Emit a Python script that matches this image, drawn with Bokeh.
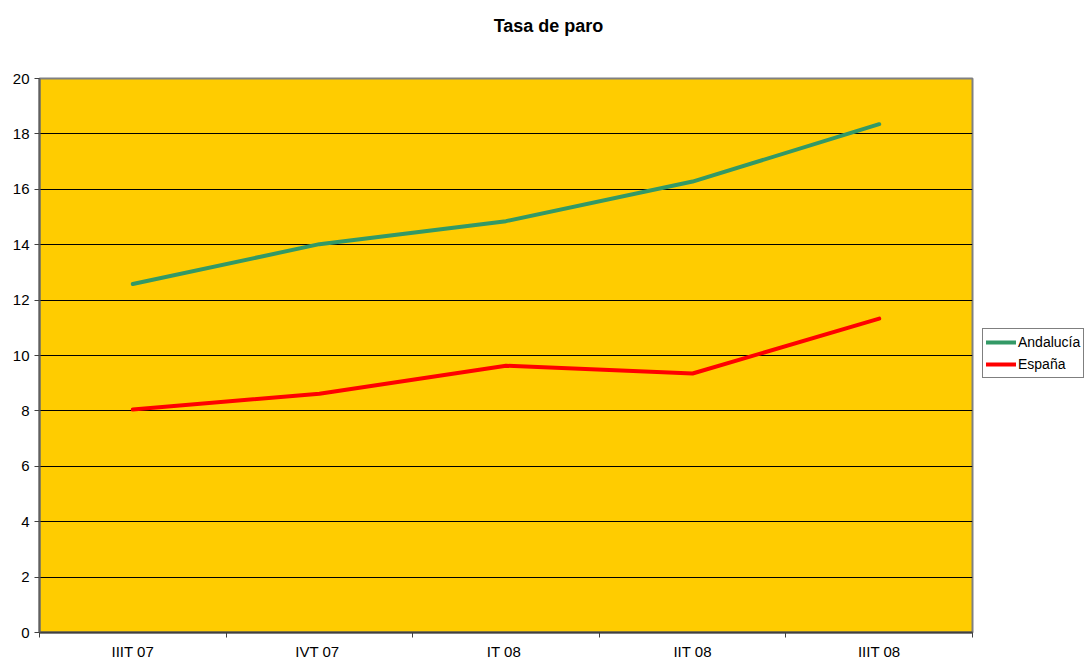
from bokeh.plotting import figure
from bokeh.models import (FixedTicker, Legend, LegendItem, Range1d, ColumnDataSource, Title)
from bokeh.embed import file_html
from bokeh.resources import INLINE

categories = ["IIIT 07", "IVT  07", "IT  08", "IIT 08", "IIIT 08"]
andalucia = [12.58, 14.02, 14.85, 16.28, 18.35]
espana = [8.05, 8.62, 9.63, 9.35, 11.33]
y_ticks = list(range(0, 21, 2))
title_text = "Tasa de paro"

xs = [i + 0.5 for i in range(len(categories))]
src = ColumnDataSource(dict(x=xs, a=andalucia, e=espana))

FONT = "Liberation Sans"

p = figure(width=1088, height=660, frame_width=933, frame_height=554,
           output_backend="svg", toolbar_location=None,
           x_range=Range1d(0, len(categories)), y_range=Range1d(0, 20),
           min_border_left=39, min_border_right=10, min_border_top=78,
           min_border_bottom=26, title_location=None)

p.background_fill_color = "#FFCC00"
p.border_fill_color = "white"
p.outline_line_color = "#808080"
p.outline_line_width = 2

# spacer between the frame and the title
spacer = Title(text=" ", text_font_size="1px", standoff=24)
p.add_layout(spacer, "above")
# non-breaking spaces shift the centred title to the right, like the original
main_title = Title(text="\u00a0" * 17 + title_text, text_font=FONT, text_font_size="18px",
                   text_font_style="bold", text_color="black",
                   align="center", vertical_align="middle", standoff=29)
p.add_layout(main_title, "above")

r1 = p.line("x", "a", source=src, line_color="#339966", line_width=4, line_join="round", line_cap="round")
r2 = p.line("x", "e", source=src, line_color="#FF0000", line_width=4, line_join="round", line_cap="round")

# x axis: labels at category centres, ticks at category boundaries
xa = p.xaxis[0]
xa.ticker = FixedTicker(ticks=xs, minor_ticks=list(range(len(categories) + 1)))
xa.major_label_overrides = {x: c for x, c in zip(xs, categories)}
xa.major_tick_line_color = None
xa.major_tick_out = 5
xa.major_tick_in = 0
xa.minor_tick_out = 5
xa.minor_tick_in = 0
xa.minor_tick_line_color = "#404040"
xa.axis_line_color = "#404040"
xa.axis_line_width = 2
xa.major_label_standoff = 5
xa.major_label_text_font = FONT
xa.major_label_text_font_size = "15px"
xa.major_label_text_color = "black"

ya = p.yaxis[0]
ya.ticker = FixedTicker(ticks=y_ticks)
ya.major_tick_out = 5
ya.major_tick_in = 0
ya.minor_tick_line_color = None
ya.axis_line_color = "#606060"
ya.axis_line_width = 2
ya.major_tick_line_color = "#404040"
ya.major_label_standoff = 5
ya.major_label_text_font = FONT
ya.major_label_text_font_size = "15px"
ya.major_label_text_color = "black"

p.xgrid.grid_line_color = None
p.ygrid.grid_line_color = "black"
p.ygrid.grid_line_width = 1

legend = Legend(items=[LegendItem(label="Andalucía", renderers=[r1]),
                       LegendItem(label="España", renderers=[r2])],
                location=(10, 254), orientation="vertical",
                border_line_color="black", border_line_width=1,
                background_fill_color="white", background_fill_alpha=1,
                padding=3, spacing=2, margin=0,
                glyph_width=30, glyph_height=20, label_height=20,
                label_standoff=2,
                label_text_font=FONT, label_text_font_size="14px",
                label_text_color="black")
p.add_layout(legend, "right")

open("out.html", "w").write(file_html(p, INLINE))
